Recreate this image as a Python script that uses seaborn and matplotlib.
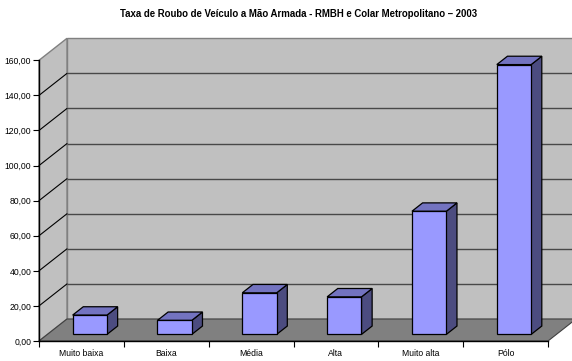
import matplotlib
matplotlib.use("Agg")
import matplotlib.pyplot as plt
from matplotlib.patches import Polygon, Rectangle
from matplotlib.ticker import FixedLocator
import seaborn as sns
import pandas as pd

# Data
categories = ["Muito baixa", "Baixa", "Média", "Alta", "Muito alta", "Pólo"]
taxa = [11.0, 8.0, 23.7, 21.4, 70.2, 153.8]
y_ticks = [0, 20, 40, 60, 80, 100, 120, 140, 160]
title = "Taxa de Roubo de Veículo a Mão Armada - RMBH e Colar Metropolitano – 2003"

sns.set_theme(style="white")
plt.rcParams["font.family"] = ["Liberation Sans", "DejaVu Sans"]

W, H = 572, 361
fig = plt.figure(figsize=(W / 100, H / 100), dpi=100)
ax = fig.add_axes([39 / W, 20 / H, 509 / W, 280.7 / H])
ax.patch.set_visible(False)

df = pd.DataFrame({"cat": categories, "taxa": taxa})

XMIN, XMAX, YMAX = -0.5, len(categories) - 0.5, 160
# oblique depth of the chart box, in data units
DX = 28 / (509 / len(categories))
DY = 22 / (280.7 / YMAX)
# bars sit in the middle of the depth
F0, F1 = 0.30, 0.68

wall = "#C0C0C0"
floor = "#808080"
edge_grey = "#808080"

# back wall
ax.add_patch(Polygon([(XMIN + DX, DY), (XMAX + DX, DY), (XMAX + DX, YMAX + DY),
                      (XMIN + DX, YMAX + DY)], closed=True, facecolor=wall,
                     edgecolor=edge_grey, lw=1.0, clip_on=False, zorder=0))
# side wall
ax.add_patch(Polygon([(XMIN, 0), (XMIN + DX, DY), (XMIN + DX, YMAX + DY), (XMIN, YMAX)],
                     closed=True, facecolor=wall, edgecolor=edge_grey, lw=1.0,
                     clip_on=False, zorder=0.1))
# floor
ax.add_patch(Polygon([(XMIN, 0), (XMAX, 0), (XMAX + DX, DY), (XMIN + DX, DY)],
                     closed=True, facecolor=floor, edgecolor="#404040", lw=0.8,
                     clip_on=False, zorder=0.2))
# gridlines on the back and side walls
for v in y_ticks[1:-1]:
    ax.plot([XMIN + DX, XMAX + DX], [v + DY, v + DY], color="#484848", lw=1.0,
            clip_on=False, zorder=0.3, solid_capstyle="butt")
    ax.plot([XMIN, XMIN + DX], [v, v + DY], color="black", lw=0.8,
            clip_on=False, zorder=0.3)

# bar fronts
sns.barplot(data=df, x="cat", y="taxa", ax=ax, width=0.405, color="#9999FF",
            saturation=1, edgecolor="black", linewidth=0.9, zorder=2)

bdx, bdy = (F1 - F0) * DX, (F1 - F0) * DY
ox, oy = F0 * DX, F0 * DY
for p in list(ax.patches):
    if not isinstance(p, Rectangle):
        continue
    x0, w, h = p.get_x(), p.get_width(), p.get_height()
    x0s, y0s = x0 + ox, oy
    p.set_x(x0s)
    p.set_y(y0s)
    p.set_clip_on(False)
    top = Polygon([(x0s, y0s + h), (x0s + w, y0s + h), (x0s + w + bdx, y0s + h + bdy),
                   (x0s + bdx, y0s + h + bdy)], closed=True, facecolor="#7373C0",
                  edgecolor="black", lw=0.9, clip_on=False, zorder=1.9)
    side = Polygon([(x0s + w, y0s), (x0s + w + bdx, y0s + bdy),
                    (x0s + w + bdx, y0s + h + bdy), (x0s + w, y0s + h)], closed=True,
                   facecolor="#4C4C80", edgecolor="black", lw=0.9, clip_on=False,
                   zorder=1.9)
    ax.add_patch(side)
    ax.add_patch(top)

ax.set_xlim(XMIN, XMAX)
ax.set_ylim(0, YMAX)
ax.set_xlabel("")
ax.set_ylabel("")

ax.set_yticks(y_ticks)
ax.set_yticklabels([f"{v:.2f}".replace(".", ",") for v in y_ticks])
ax.xaxis.set_minor_locator(FixedLocator([i - 0.5 for i in range(len(categories) + 1)]))
ax.tick_params(axis="y", which="major", length=4, width=0.8, color="black", pad=1.5,
               labelsize=6.2, left=True, labelcolor="black")
ax.tick_params(axis="x", which="major", length=0, pad=5.5, labelsize=6.2,
               labelcolor="black")
ax.tick_params(axis="x", which="minor", length=4, width=0.8, color="black", bottom=True)

for s in ["top", "right"]:
    ax.spines[s].set_visible(False)
for s in ["left", "bottom"]:
    ax.spines[s].set_color("black")
    ax.spines[s].set_linewidth(1.0)
    ax.spines[s].set_zorder(3)

fig.text(299 / W, 1 - 14 / H, title, ha="center", va="center", fontsize=6.9,
         fontweight="bold", color="black")

fig.savefig("out.png", dpi=100)
